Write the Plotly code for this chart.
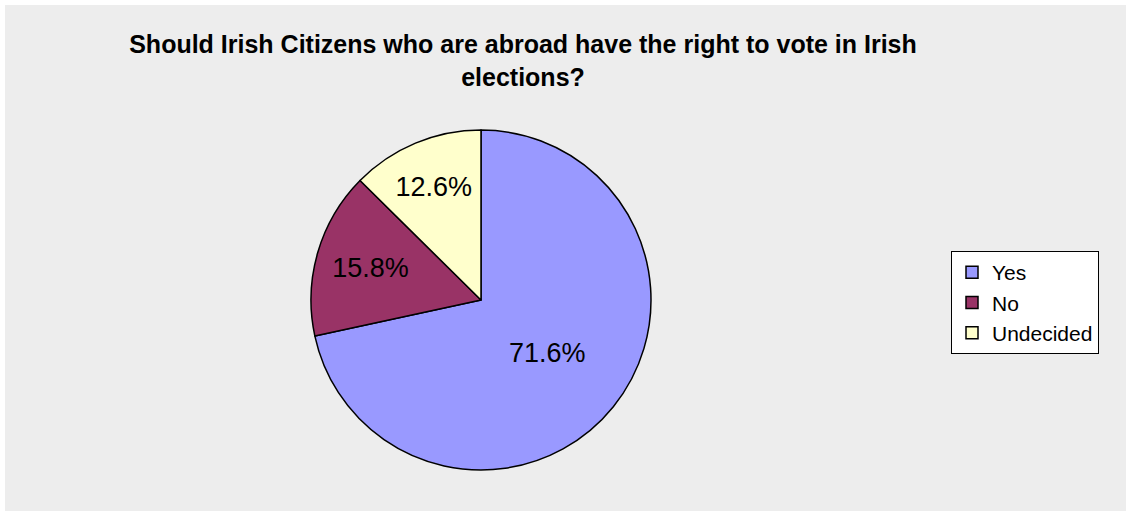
import plotly.graph_objects as go

labels = ["Yes", "No", "Undecided"]
values = [71.6, 15.8, 12.6]
colors = ["#9999FF", "#993366", "#FFFFCC"]
title_text = "Should Irish Citizens who are abroad have the right to vote in Irish<br>elections?"

W, H = 1129, 511
FONT = "Arial, Liberation Sans, sans-serif"

fig = go.Figure()
fig.add_trace(go.Pie(
    labels=labels,
    values=values,
    sort=False,
    direction="clockwise",
    rotation=0,
    marker=dict(colors=colors, line=dict(color="black", width=1.5)),
    textinfo="percent",
    texttemplate="%{percent:.1%}",
    textposition="inside",
    insidetextorientation="horizontal",
    textfont=dict(family=FONT, size=27, color="black"),
    domain=dict(x=[311 / W, 651 / W], y=[(H - 470) / H, (H - 130) / H]),
    hoverinfo="label+percent",
))

fig.update_layout(
    width=W, height=H,
    margin=dict(l=0, r=0, t=0, b=0),
    paper_bgcolor="white",
    title=dict(
        text=title_text,
        x=523 / W, xanchor="center",
        y=(H - 53) / H, yanchor="top",
        font=dict(family=FONT, size=25, color="black", weight="bold"),
    ),
    legend=dict(
        x=951 / W, xanchor="left",
        y=(H - 251) / H, yanchor="top",
        bgcolor="white",
        bordercolor="black",
        borderwidth=1,
        font=dict(family=FONT, size=21, color="black"),
        itemclick=False,
        tracegroupgap=0,
    ),
    shapes=[dict(
        type="rect", xref="paper", yref="paper",
        x0=5 / W, x1=1126 / W, y0=0, y1=(H - 5) / H,
        fillcolor="#EDEDED", line=dict(width=0), layer="below",
    )],
)

fig.write_html("out.html")
